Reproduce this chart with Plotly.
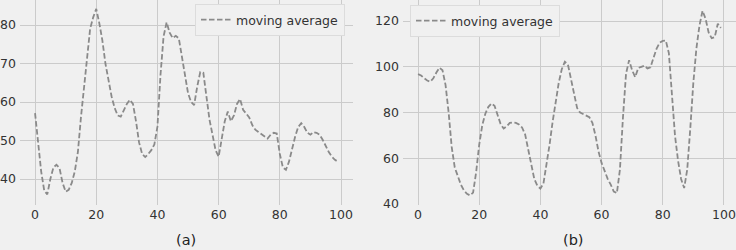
import plotly.graph_objects as go

x_vals = list(range(100))

series_a = [57.1, 50, 42, 37, 36, 40, 43, 43.7, 42.8, 39,
            36.7, 37.2, 39, 42, 47, 56, 64, 72, 79, 82,
            84.2, 80.5, 76, 70, 65.5, 61.5, 58.5, 56.5, 56.2, 57.8,
            59.5, 60.6, 59.5, 55, 49.5, 46.5, 45.7, 46.5, 47.5, 49,
            53.6, 67, 77, 80.7, 78, 76.6, 77.2, 76.5, 72, 66.5,
            62.3, 60, 59.2, 64, 67.8, 67.6, 62, 55.5, 51.5, 47.5,
            45.8, 50.5, 55, 57.5, 55, 56.5, 59.5, 60.8, 58, 57,
            56, 54, 52.8, 52.2, 51.7, 51, 50.5, 51.5, 52, 51.8,
            46.5, 43, 42.4, 44.5, 48, 51, 53.5, 54.5, 53.5, 52,
            51.5, 52.2, 52, 51.5, 50.2, 48.5, 47, 45.8, 45, 44.5]

series_b = [96.8, 96.2, 95, 94, 93.5, 95, 97.5, 99.6, 98.5, 92,
            80, 65, 56, 52, 48.5, 46, 44.5, 43.8, 45, 54,
            66, 74.5, 79.5, 82.5, 84, 83, 79, 75, 73, 74,
            75.5, 75.7, 75.5, 74.8, 73.5, 70.5, 64, 57, 51, 48,
            46.8, 49, 57, 66, 76, 85, 93, 99, 102.2, 101,
            95, 88, 82, 80, 79.3, 78.8, 78, 75.5, 70, 63,
            58, 54.5, 51, 48.5, 45.5, 44.8, 55, 78, 97, 102.9,
            98.5, 95.5, 99.5, 100, 100.5, 99.3, 99.8, 104, 108, 110.5,
            111.3, 111.5, 106, 88, 70, 59, 51, 47, 55, 73,
            93, 108, 118, 124.5, 121, 115, 112.5, 113, 118.8, 117]

x_ticks = [0, 20, 40, 60, 80, 100]
y_ticks_a = [40, 50, 60, 70, 80]
y_ticks_b = [40, 60, 80, 100, 120]
series_name = "moving average"
panel_labels = ["(a)", "(b)"]

BG = "#f0f0f0"
GRID = "#cbcbcb"
LINE = "#8a8a8a"
FONT = "DejaVu Sans"
TXT = "#333333"

fig = go.Figure()
fig.add_trace(go.Scatter(x=x_vals, y=series_a, mode="lines", name=series_name,
                         line=dict(color=LINE, width=1.8, dash="5.5px,2.5px"),
                         xaxis="x", yaxis="y", legend="legend"))
fig.add_trace(go.Scatter(x=x_vals, y=series_b, mode="lines", name=series_name,
                         line=dict(color=LINE, width=1.8, dash="5.5px,2.5px"),
                         xaxis="x2", yaxis="y2", legend="legend2"))

ax_common = dict(showgrid=True, gridcolor=GRID, gridwidth=1, zeroline=False,
                 showline=False, ticks="", automargin=False,
                 tickfont=dict(family=FONT, size=12.5, color=TXT))

fig.update_layout(
    width=736, height=250,
    margin=dict(l=0, r=0, t=0, b=0, autoexpand=False),
    paper_bgcolor=BG, plot_bgcolor=BG,
    font=dict(family=FONT, size=12.5, color=TXT),
    xaxis=dict(domain=[19.9/736, 353.1/736], range=[-4.95, 103.95], tickvals=x_ticks,
               anchor="y", **ax_common),
    yaxis=dict(domain=[0.18, 1.0], range=[33.25, 86.5], tickvals=y_ticks_a,
               anchor="x", ticklabelstandoff=3, **ax_common),
    xaxis2=dict(domain=[402.9/736, 1.0], range=[-4.95, 103.95], tickvals=x_ticks,
                anchor="y2", **ax_common),
    yaxis2=dict(domain=[0.18, 1.0], range=[39.6, 129.2], tickvals=y_ticks_b,
                anchor="x2", ticklabelstandoff=3, **ax_common),
    legend=dict(x=345/736, xanchor="right", y=1 - 4/250, yanchor="top",
                bgcolor=BG, bordercolor="#dcdcdc", borderwidth=1,
                font=dict(family=FONT, size=12.5, color=TXT)),
    legend2=dict(x=410/736, xanchor="left", y=1 - 5/250, yanchor="top",
                 bgcolor=BG, bordercolor="#dcdcdc", borderwidth=1,
                 font=dict(family=FONT, size=12.5, color=TXT)),
    showlegend=True,
)

label_x = [186.5/736, 573/736]
for lab, lx in zip(panel_labels, label_x):
    fig.add_annotation(text=lab, x=lx, y=1 - 240/250, xref="paper", yref="paper",
                       xanchor="center", yanchor="middle", showarrow=False,
                       font=dict(family=FONT, size=14.5, color="#222222"))

fig.write_html("out.html",
               config={"displayModeBar": False},
               post_script="document.body.style.margin='0';document.body.style.overflow='hidden';document.body.style.background='#f0f0f0';")
